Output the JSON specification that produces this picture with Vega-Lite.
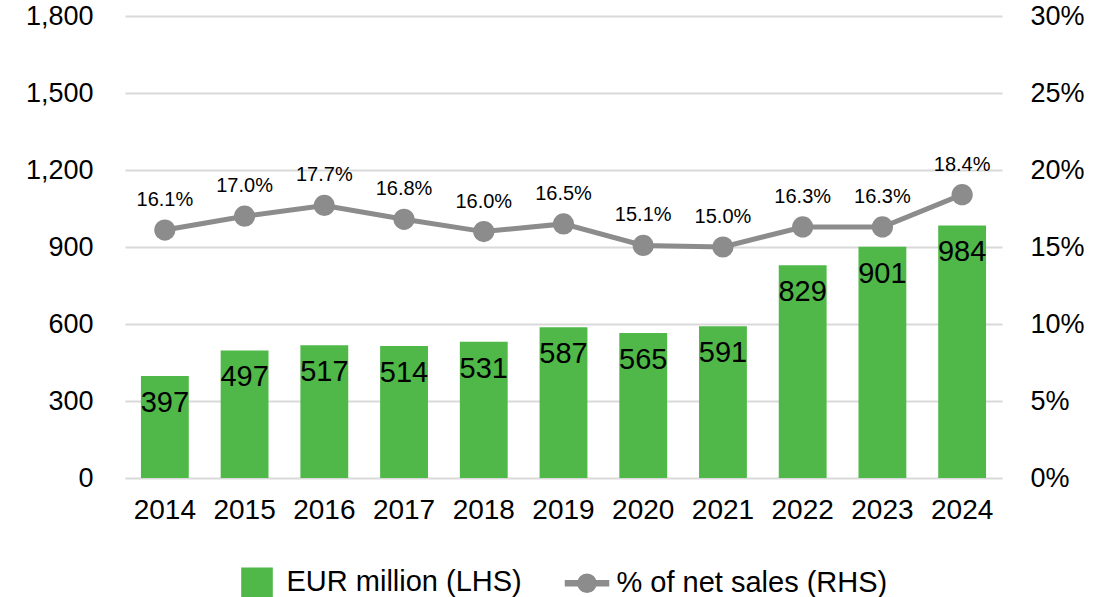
{
  "$schema": "https://vega.github.io/schema/vega-lite/v6.json",
  "width": 877,
  "height": 462,
  "autosize": {"type": "none"},
  "padding": {"left": 125, "top": 16, "right": 111, "bottom": 119},
  "background": "white",
  "config": {
    "font": "Liberation Sans",
    "view": {"stroke": null},
    "axis": {"labelColor": "#000000", "labelFont": "Liberation Sans"}
  },
  "data": {
    "values": [
      {"year": "2014", "eur": 397, "pct": 0.161},
      {"year": "2015", "eur": 497, "pct": 0.170},
      {"year": "2016", "eur": 517, "pct": 0.177},
      {"year": "2017", "eur": 514, "pct": 0.168},
      {"year": "2018", "eur": 531, "pct": 0.160},
      {"year": "2019", "eur": 587, "pct": 0.165},
      {"year": "2020", "eur": 565, "pct": 0.151},
      {"year": "2021", "eur": 591, "pct": 0.150},
      {"year": "2022", "eur": 829, "pct": 0.163},
      {"year": "2023", "eur": 901, "pct": 0.163},
      {"year": "2024", "eur": 984, "pct": 0.184}
    ]
  },
  "encoding": {
    "x": {
      "field": "year",
      "type": "ordinal",
      "scale": {"paddingInner": 0.4, "paddingOuter": 0.2},
      "axis": {
        "title": null,
        "labelAngle": 0,
        "labelFontSize": 28,
        "labelPadding": 18,
        "domain": false,
        "ticks": false
      }
    }
  },
  "layer": [
    {
      "encoding": {
        "y": {
          "field": "eur",
          "type": "quantitative",
          "scale": {"domain": [0, 1800], "nice": false},
          "axis": {
            "title": null,
            "orient": "left",
            "values": [0, 300, 600, 900, 1200, 1500, 1800],
            "format": ",.0f",
            "labelFontSize": 27,
            "labelPadding": 32,
            "domain": false,
            "ticks": false,
            "grid": true,
            "gridColor": "#d9d9d9",
            "gridWidth": 2
          }
        }
      },
      "layer": [
        {
          "mark": {"type": "bar", "color": "#4fb848"},
          "encoding": {
            "color": {
              "datum": "EUR million (LHS)",
              "scale": {
                "domain": ["EUR million (LHS)", "% of net sales (RHS)"],
                "range": ["#4fb848", "#8c8c8c"]
              },
              "legend": {
                "title": null,
                "orient": "none",
                "legendX": 109.5,
                "legendY": 543.5,
                "direction": "horizontal",
                "labelFontSize": 29,
                "labelColor": "#000000",
                "labelLimit": 500,
                "labelOffset": 7,
                "columnPadding": 40,
                "symbolSize": 1849,
                "encode": {
                  "symbols": {
                    "update": {
                      "shape": {"signal": "datum.value === 'EUR million (LHS)' ? 'M-0.7,-0.65L0.7,-0.65L0.7,0.65L-0.7,0.65Z' : 'M-1,-0.12L1,-0.12L1,0.12L-1,0.12Z M-0.42,0A0.42,0.42 0 1,1 0.42,0A0.42,0.42 0 1,1 -0.42,0Z'"},
                      "fill": {"signal": "datum.value === 'EUR million (LHS)' ? '#4fb848' : '#8c8c8c'"},
                      "stroke": {"value": "transparent"},
                      "opacity": {"value": 1},
                      "fillOpacity": {"value": 1}
                    }
                  }
                }
              }
            }
          }
        },
        {
          "mark": {"type": "text", "fontSize": 29, "baseline": "middle", "dy": 27, "color": "#000000"},
          "encoding": {
            "text": {"field": "eur", "type": "quantitative"}
          }
        }
      ]
    },
    {
      "encoding": {
        "y": {
          "field": "pct",
          "type": "quantitative",
          "scale": {"domain": [0, 0.3], "nice": false},
          "axis": {
            "title": null,
            "orient": "right",
            "values": [0, 0.05, 0.1, 0.15, 0.2, 0.25, 0.3],
            "format": ".0%",
            "labelFontSize": 27,
            "labelPadding": 28,
            "domain": false,
            "ticks": false,
            "grid": false
          }
        }
      },
      "layer": [
        {
          "mark": {"type": "line", "strokeWidth": 5},
          "encoding": {
            "color": {"datum": "% of net sales (RHS)"}
          }
        },
        {
          "mark": {"type": "point", "filled": true, "size": 450, "opacity": 1, "color": "#8c8c8c", "shape": "circle"}
        },
        {
          "mark": {"type": "text", "fontSize": 20, "baseline": "middle", "dy": -30, "color": "#000000"},
          "encoding": {
            "text": {"field": "pct", "type": "quantitative", "format": ".1%"}
          }
        }
      ]
    }
  ],
  "resolve": {"scale": {"y": "independent"}}
}
